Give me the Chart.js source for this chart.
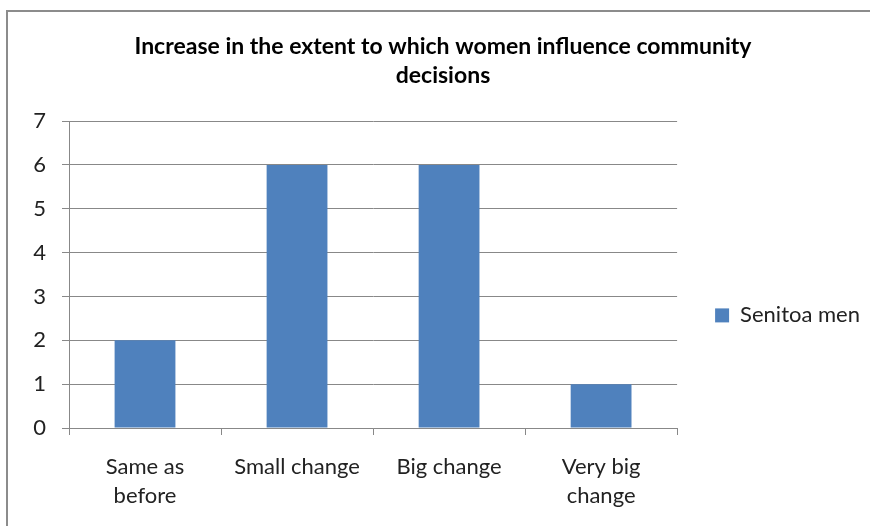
<!DOCTYPE html>
<html>
<head>
<meta charset="utf-8">
<script src="https://cdn.jsdelivr.net/npm/chart.js@4.4.1/dist/chart.umd.min.js"></script>
<style>
  body { margin: 0; background: #fff; }
  #wrap { width: 870px; height: 526px; }
</style>
</head>
<body>
<div id="wrap"><canvas id="chart" width="870" height="526"></canvas></div>
<script>
// data
const categories = [["Same as", "before"], "Small change", "Big change", ["Very big", "change"]];
const senitoaMen = [2, 6, 6, 1];
const seriesName = "Senitoa men";
const titleLines = ["Increase in the extent to which women influence community", "decisions"];

const FONT = "Lato, 'Open Sans', sans-serif";
const GRID = "#888888";

// grey frame on top and left, like the original image
const framePlugin = {
    id: "frame",
    beforeDraw(chart) {
        const ctx = chart.ctx;
        ctx.save();
        ctx.strokeStyle = "#8c8c8c";
        ctx.lineWidth = 2;
        ctx.beginPath();
        ctx.moveTo(7, 526);
        ctx.lineTo(7, 11);
        ctx.lineTo(870, 11);
        ctx.stroke();
        ctx.restore();
    }
};

const ctx = document.getElementById("chart").getContext("2d");
new Chart(ctx, {
    type: "bar",
    data: {
        labels: categories,
        datasets: [{
            label: seriesName,
            data: senitoaMen,
            backgroundColor: "#4F81BD",
            borderWidth: 0,
            barPercentage: 0.4,
            categoryPercentage: 1.0
        }]
    },
    options: {
        responsive: false,
        animation: false,
        devicePixelRatio: 1,
        layout: { padding: { left: 16, right: 0, top: 0, bottom: 0 } },
        plugins: {
            title: {
                display: true,
                text: titleLines,
                color: "#000",
                font: { family: FONT, size: 23, weight: "bold", lineHeight: 1.22 },
                padding: { top: 33, bottom: 32 }
            },
            legend: {
                position: "right",
                maxWidth: 194,
                title: { display: true, text: " ", font: { size: 4 }, padding: { top: 100, bottom: 0 } },
                labels: {
                    boxWidth: 14,
                    boxHeight: 14,
                    padding: 38,
                    color: "#222",
                    font: { family: FONT, size: 22 }
                }
            },
            tooltip: { enabled: false }
        },
        scales: {
            x: {
                grid: {
                    drawOnChartArea: false,
                    drawTicks: true,
                    tickLength: 7,
                    tickColor: GRID
                },
                border: { color: GRID },
                ticks: {
                    color: "#222",
                    padding: 17,
                    maxRotation: 0,
                    font: { family: FONT, size: 22, lineHeight: 1.32 }
                },
                afterFit(scale) { scale.height = 98; }
            },
            y: {
                min: 0,
                max: 7,
                ticks: {
                    stepSize: 1,
                    color: "#222",
                    padding: 16,
                    font: { family: FONT, size: 22 }
                },
                grid: {
                    color: GRID,
                    tickLength: 7,
                    tickColor: GRID
                },
                border: { color: GRID },
                afterFit(scale) { scale.width = 53; }
            }
        }
    },
    plugins: [framePlugin]
});
</script>
</body>
</html>
